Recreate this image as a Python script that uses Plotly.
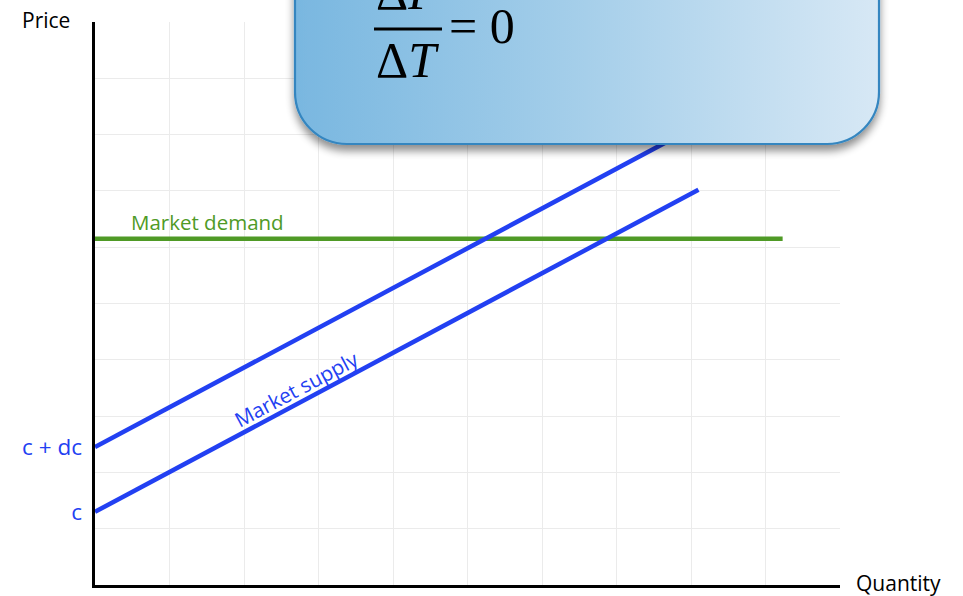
import urllib.parse
import plotly.graph_objects as go

# ---------------- data ----------------
supply_quantity = [0, 8.1]
supply_price = [1.3, 7.02]
shifted_supply_price = [2.45, 8.17]
demand_quantity = [0, 9.23]
demand_price = [6.15, 6.15]
price_tick_values = [supply_price[0], shifted_supply_price[0]]
price_tick_labels = ["c", "c + dc"]

# ---------------- layout helpers ----------------
W, H = 963, 596
L, R, T, B = 95, 123, 22, 11
PW, PH = W - L - R, H - T - B


def px(x):
    return (x - L) / PW


def py(y):
    return (H - B - y) / PH


BLUE = "#2240f2"
GREEN = "#4f9a26"
FONT = "Open Sans"

fig = go.Figure()
fig.add_trace(go.Scatter(x=demand_quantity, y=demand_price, mode="lines",
                         line=dict(color=GREEN, width=4.5), hoverinfo="skip"))
fig.add_trace(go.Scatter(x=supply_quantity, y=shifted_supply_price, mode="lines",
                         line=dict(color=BLUE, width=4.5), hoverinfo="skip"))
fig.add_trace(go.Scatter(x=supply_quantity, y=supply_price, mode="lines",
                         line=dict(color=BLUE, width=4.5), hoverinfo="skip"))
# invisible trace to activate the label axis
fig.add_trace(go.Scatter(x=[0], y=[0], yaxis="y2", mode="markers",
                         marker=dict(opacity=0), hoverinfo="skip"))

axis_common = dict(range=[0, 10], dtick=1, showgrid=True, gridcolor="#ebebeb",
                   gridwidth=1, showticklabels=False, showline=True,
                   linecolor="black", linewidth=3, zeroline=False, ticks="",
                   fixedrange=True)
fig.update_layout(
    width=W, height=H,
    margin=dict(l=L, r=R, t=T, b=B),
    paper_bgcolor="white", plot_bgcolor="white",
    showlegend=False,
    xaxis=axis_common,
    yaxis=axis_common,
    yaxis2=dict(range=[0, 10], overlaying="y", side="left",
                tickvals=price_tick_values, ticktext=price_tick_labels,
                tickfont=dict(family=FONT, size=22.5, color=BLUE),
                showgrid=False, zeroline=False, showline=False, ticks="",
                ticklabelstandoff=12, fixedrange=True),
)

annotations = [
    dict(text="Price", x=px(46), y=py(20), font=dict(family=FONT, size=21, color="black")),
    dict(text="Quantity", x=px(899), y=py(583), font=dict(family=FONT, size=21, color="black")),
    dict(text="Market demand", x=px(207), y=py(222), font=dict(family=FONT, size=20.5, color=GREEN)),
    dict(text="Market supply", x=px(296), y=py(389), textangle=-28,
         font=dict(family=FONT, size=20.5, color=BLUE)),
]
for a in annotations:
    a.update(xref="paper", yref="paper", showarrow=False, xanchor="center", yanchor="middle")

# callout box as an svg image (gradient + shadow)
svg = (
    "<svg xmlns='http://www.w3.org/2000/svg' width='620' height='240' viewBox='0 0 620 240'>"
    "<defs><linearGradient id='g' x1='0' y1='0' x2='1' y2='0'>"
    "<stop offset='0' stop-color='#79b7e0'/><stop offset='0.5' stop-color='#a6cfea'/>"
    "<stop offset='1' stop-color='#d7e8f5'/></linearGradient>"
    "<filter id='s' x='-10%' y='-10%' width='120%' height='130%'>"
    "<feGaussianBlur in='SourceAlpha' stdDeviation='4'/><feOffset dy='6' result='b'/>"
    "<feComponentTransfer><feFuncA type='linear' slope='0.45'/></feComponentTransfer>"
    "<feMerge><feMergeNode/><feMergeNode in='SourceGraphic'/></feMerge></filter></defs>"
    "<rect x='15' y='10' width='584' height='214' rx='52' ry='52' fill='url(#g)' "
    "stroke='#3486c0' stroke-width='2.2' filter='url(#s)'/></svg>"
)
src = "data:image/svg+xml;charset=utf-8," + urllib.parse.quote(svg)
fig.add_layout_image(dict(source=src, xref="paper", yref="paper",
                          x=px(280), y=py(-80), sizex=620 / PW, sizey=240 / PH,
                          xanchor="left", yanchor="top", sizing="stretch", layer="above"))

MATH = dict(family="Liberation Serif", size=50, color="black")
math_ann = [
    dict(text="Δ<i>P</i>", x=px(407), y=py(-8)),
    dict(text="Δ<i>T</i>", x=px(407), y=py(60)),
    dict(text="= 0", x=px(482), y=py(26)),
]
for a in math_ann:
    a.update(xref="paper", yref="paper", showarrow=False, xanchor="center",
             yanchor="middle", font=MATH)
fig.update_layout(annotations=annotations + math_ann)
fig.add_shape(type="line", xref="paper", yref="paper", x0=px(374), x1=px(442),
              y0=py(29), y1=py(29), line=dict(color="black", width=3), layer="above")

fig.write_html("out.html", config={"displayModeBar": False},
               post_script="document.body.style.margin='0';document.body.style.overflow='hidden';")
